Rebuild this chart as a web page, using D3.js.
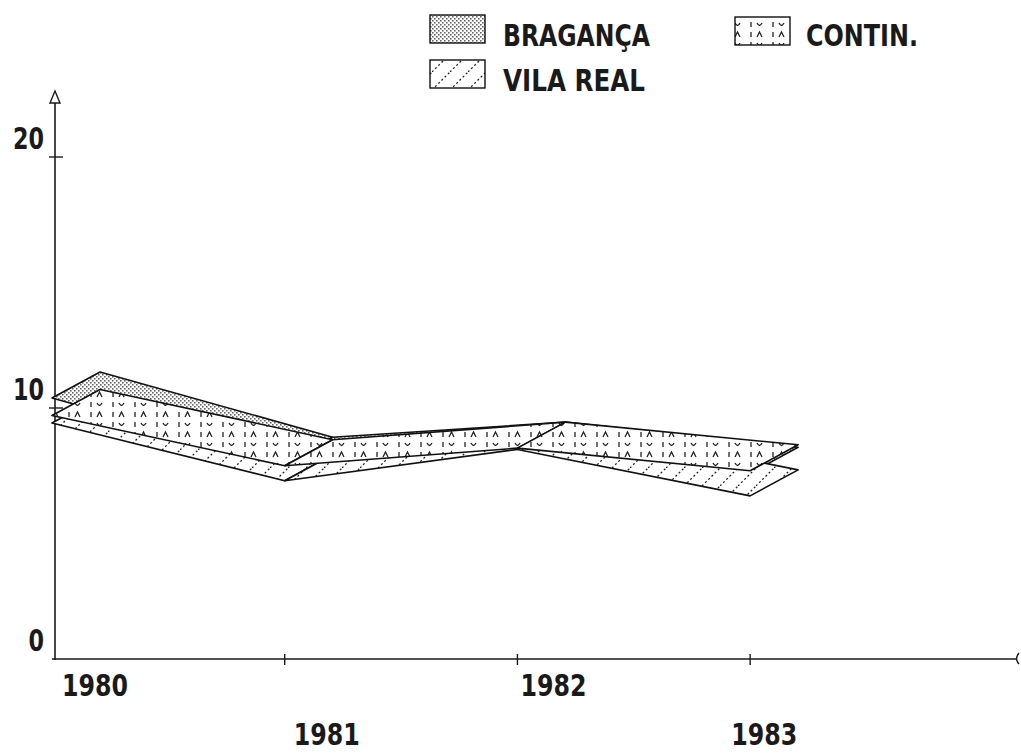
<!DOCTYPE html>
<html>
<head>
<meta charset="utf-8">
<script src="https://cdn.jsdelivr.net/npm/d3@7"></script>
<style>
  body { margin: 0; background: #fff; }
  text { font-family: "DejaVu Sans Condensed", "DejaVu Sans", sans-serif; font-weight: bold; fill: #1a1a1a; }
</style>
</head>
<body>
<svg id="chart" width="1021" height="754"></svg>
<script>
// Yearly values per district (ribbon front edge)
const years = ["1980", "1981", "1982", "1983"];
const seriesNames = ["BRAGANÇA", "VILA REAL", "CONTIN."];
const braganca = [10.4, 7.8, 8.4, 7.4];
const vilaReal = [9.4, 7.1, 8.35, 6.5];
const contin = [9.7, 7.7, 8.4, 7.5];
const yTickValues = [0, 10, 20];

const svg = d3.select("#chart");
const W = 1021, H = 754;
svg.append("rect").attr("width", W).attr("height", H).attr("fill", "#fff");

// ---- fill patterns ----
const defs = svg.append("defs");

// stipple for Bragança
const pStip = defs.append("pattern").attr("id", "pat-bra")
  .attr("patternUnits", "userSpaceOnUse").attr("width", 4).attr("height", 4);
pStip.append("rect").attr("width", 4).attr("height", 4).attr("fill", "#fff");
pStip.append("rect").attr("x", 0).attr("y", 0).attr("width", 1.6).attr("height", 1.6).attr("fill", "#666");
pStip.append("rect").attr("x", 2).attr("y", 2).attr("width", 1.6).attr("height", 1.6).attr("fill", "#666");

// dotted diagonal hatch for Vila Real
const pHatch = defs.append("pattern").attr("id", "pat-vila")
  .attr("patternUnits", "userSpaceOnUse").attr("width", 18).attr("height", 18);
pHatch.append("rect").attr("width", 18).attr("height", 18).attr("fill", "#fff");
pHatch.append("path").attr("d", "M0,18 L18,0")
  .attr("stroke", "#222").attr("stroke-width", 1.3).attr("stroke-dasharray", "2,2.5").attr("fill", "none");

// sparse mark pattern for Contin.
const pMark = defs.append("pattern").attr("id", "pat-cont")
  .attr("patternUnits", "userSpaceOnUse").attr("width", 22).attr("height", 20);
pMark.append("rect").attr("width", 22).attr("height", 20).attr("fill", "#fff");
pMark.append("path")
  .attr("d", "M3,2 L3,7 M9,3 Q11.5,8 14,3 M3,12 L3,17 M9,17 L11.5,12 L14,17")
  .attr("stroke", "#222").attr("stroke-width", 1.3).attr("fill", "none");

// ---- scales ----
const x = d3.scaleLinear().domain([0, 4.151]).range([52, 1018]);
const y = d3.scaleLinear().domain([0, 20]).range([659, 157]);
const depth = { dx: 48, dy: -26 };

// ---- axes ----
const axisG = svg.append("g").attr("stroke", "#1a1a1a").attr("fill", "none");
// y axis with open arrow
axisG.append("line").attr("x1", x(0) + 3).attr("x2", x(0) + 3)
  .attr("y1", y(0) + 1).attr("y2", 100).attr("stroke-width", 1.6);
axisG.append("path")
  .attr("d", `M${x(0) + 3},91 L${x(0) - 2},103 L${x(0) + 8},103 Z`)
  .attr("stroke-width", 1.4).attr("fill", "#fff");
// x axis
axisG.append("line").attr("x1", x(0)).attr("x2", x.range()[1] - 2)
  .attr("y1", y(0)).attr("y2", y(0)).attr("stroke-width", 1.6);
axisG.append("path")
  .attr("d", `M${x.range()[1] + 1},${y(0) - 6} Q${x.range()[1] - 4},${y(0)} ${x.range()[1] + 1},${y(0) + 5}`)
  .attr("stroke-width", 1.4);

// x ticks
axisG.selectAll("line.xt").data(years.slice(1)).join("line").attr("class", "xt")
  .attr("x1", (d, i) => x(i + 1)).attr("x2", (d, i) => x(i + 1))
  .attr("y1", y(0) - 5).attr("y2", y(0) + 6).attr("stroke-width", 1.4);
// y ticks
axisG.selectAll("line.yt").data(yTickValues.slice(1)).join("line").attr("class", "yt")
  .attr("x1", x(0) - 3).attr("x2", x(0) + 11)
  .attr("y1", d => y(d)).attr("y2", d => y(d)).attr("stroke-width", 1.4);

// y labels
svg.selectAll("text.yl").data(yTickValues).join("text").attr("class", "yl")
  .attr("x", x(0) - 8).attr("y", d => y(d) - 8)
  .attr("text-anchor", "end").attr("font-size", 31)
  .attr("textLength", d => String(d).length * 15.5).attr("lengthAdjust", "spacingAndGlyphs")
  .text(d => d);

// x labels, alternating rows
const labelShift = [10, 9, 3, -19];
svg.selectAll("text.xl").data(years).join("text").attr("class", "xl")
  .attr("x", (d, i) => x(i) + labelShift[i])
  .attr("y", (d, i) => i % 2 === 0 ? 696 : 745)
  .attr("font-size", 30)
  .attr("textLength", 66).attr("lengthAdjust", "spacingAndGlyphs")
  .text(d => d);

// ---- ribbons ----
const series = [
  { name: seriesNames[0], values: braganca, fill: "url(#pat-bra)" },
  { name: seriesNames[1], values: vilaReal, fill: "url(#pat-vila)" },
  { name: seriesNames[2], values: contin, fill: "url(#pat-cont)" }
];

function segments(values) {
  const segs = [];
  for (let i = 0; i < values.length - 1; i++) {
    const x0 = x(i), x1 = x(i + 1), y0 = y(values[i]), y1 = y(values[i + 1]);
    segs.push([[x0, y0], [x1, y1], [x1 + depth.dx, y1 + depth.dy], [x0 + depth.dx, y0 + depth.dy]]);
  }
  return segs;
}

const ribbons = svg.append("g").selectAll("g.ribbon").data(series).join("g").attr("class", "ribbon");
ribbons.selectAll("path").data(d => segments(d.values).map(q => ({ q, fill: d.fill })))
  .join("path")
  .attr("d", d => "M" + d.q.map(p => p.join(",")).join("L") + "Z")
  .attr("fill", d => d.fill)
  .attr("stroke", "#111").attr("stroke-width", 1.6).attr("stroke-linejoin", "round");

// ---- legend ----
const legendItems = [
  { name: seriesNames[0], fill: "url(#pat-bra)", sx: 430, sy: 15, tx: 503, ty: 46, tl: 147 },
  { name: seriesNames[1], fill: "url(#pat-vila)", sx: 430, sy: 60, tx: 503, ty: 91, tl: 142 },
  { name: seriesNames[2], fill: "url(#pat-cont)", sx: 735, sy: 17, tx: 806, ty: 46, tl: 112 }
];
const lg = svg.append("g").selectAll("g").data(legendItems).join("g");
lg.append("rect").attr("x", d => d.sx).attr("y", d => d.sy)
  .attr("width", 55).attr("height", 28).attr("fill", d => d.fill)
  .attr("stroke", "#111").attr("stroke-width", 1.4);
lg.append("text").attr("x", d => d.tx).attr("y", d => d.ty)
  .attr("font-size", 31).attr("textLength", d => d.tl).attr("lengthAdjust", "spacingAndGlyphs")
  .text(d => d.name);
</script>
</body>
</html>
